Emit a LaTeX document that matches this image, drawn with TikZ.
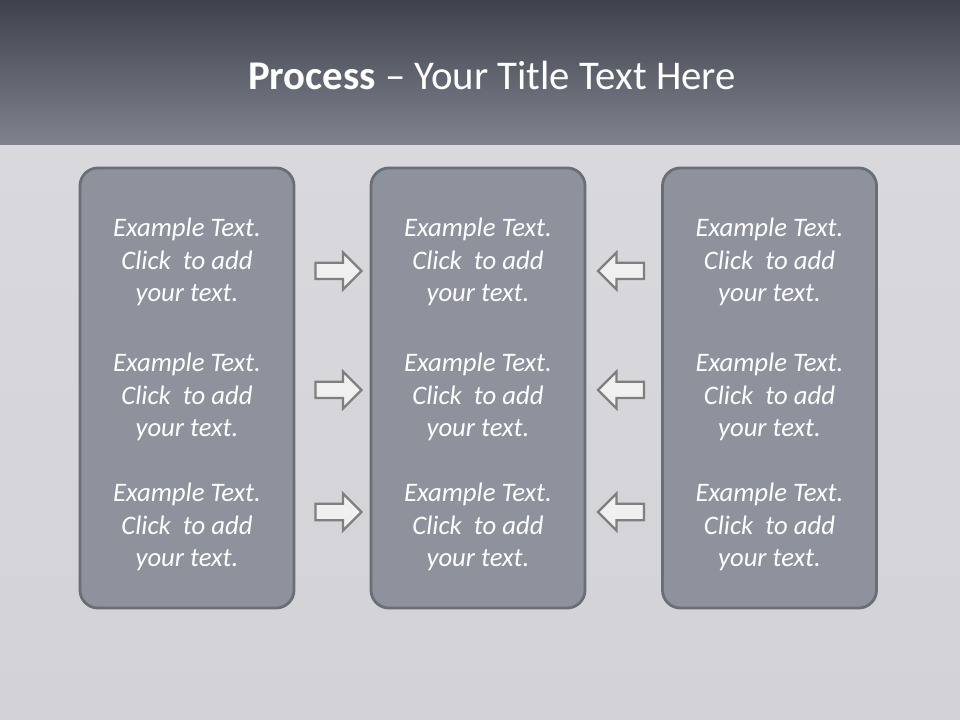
\documentclass[tikz,border=0pt]{standalone}
\usepackage{fontspec}
\setmainfont{Carlito}
\usetikzlibrary{shapes.arrows,positioning}
\definecolor{bandtop}{HTML}{3E424C}
\definecolor{bandbot}{HTML}{7E838E}
\definecolor{boxfill}{HTML}{8D929C}
\definecolor{boxline}{HTML}{6A6E77}
\definecolor{bgtop}{HTML}{D9D9DD}
\definecolor{bgbot}{HTML}{D3D3D7}
\definecolor{arrowline}{HTML}{7F7F7F}

\begin{document}
\begin{tikzpicture}[x=0.025cm, y=-0.025cm,
    panel/.style={draw=boxline, line width=2pt, fill=boxfill, rounded corners=0.45cm,
      minimum width=5.35cm, minimum height=11cm, inner sep=0pt},
    blurb/.style={text=white, align=center, font=\fontsize{19}{23.2}\selectfont\itshape},
    pointer/.style={single arrow, draw=arrowline, fill=white!94!black, line width=1.6pt,
      inner xsep=0pt, inner ysep=0.175cm, minimum height=1.15cm,
      single arrow head extend=0.26cm}]

  % background and title band
  \shade[top color=bgtop, bottom color=bgbot] (0,145) rectangle (960,720);
  \shade[top color=bandtop, bottom color=bandbot] (0,0) rectangle (960,145);
  \useasboundingbox (0,0) rectangle (960,720);
  \node[text=white, font=\fontsize{29}{34}\selectfont] (title) at (492,75)
    {\textbf{Process} -- Your Title Text Here};

  % the three panels
  \node[panel] (boxL) at (187,388) {};
  \node[panel] (boxM) at (478,388) {};
  \node[panel] (boxR) at (769.5,388) {};

  % panel texts, three per panel
  \foreach \col/\cx in {L/187, M/478, R/769.5} {
    \foreach \row/\cy in {1/262, 2/397, 3/527} {
      \node[blurb] (t\col\row) at (\cx,\cy) {Example Text.\\Click~ to add\\your text.};
    }
  }

  % arrows into the middle panel
  \foreach \row/\cy in {1/271, 2/390, 3/512} {
    \node[pointer] (arR\row) at (334.5,\cy) {};
    \node[pointer, shape border rotate=180] (arL\row) at (625,\cy) {};
  }
\end{tikzpicture}
\end{document}
